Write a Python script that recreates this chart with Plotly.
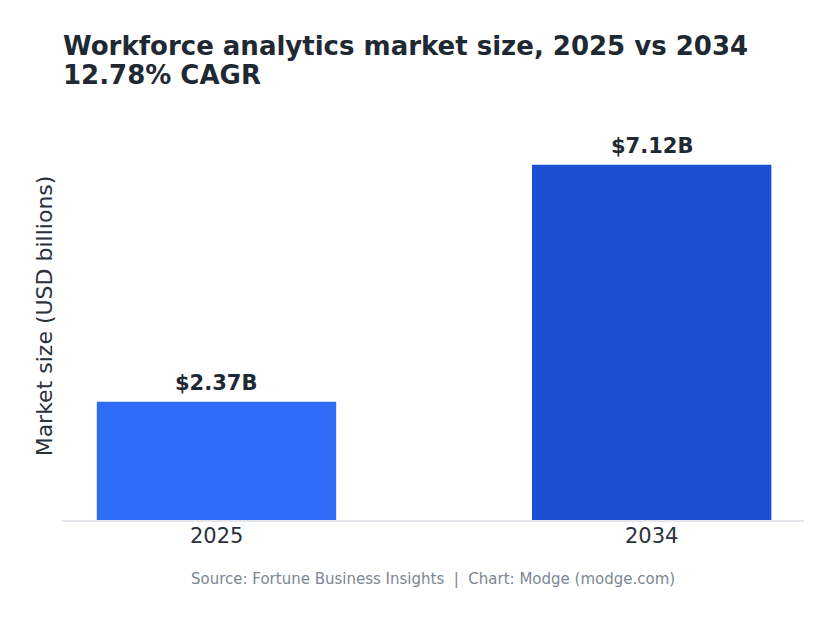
import plotly.graph_objects as go

years = ["2025", "2034"]
values = [2.37, 7.12]
labels = ["$2.37B", "$7.12B"]
colors = ["#2f6cf6", "#1b4fd1"]
title_lines = ["Workforce analytics market size, 2025 vs 2034", "12.78% CAGR"]
source = "Source: Fortune Business Insights  |  Chart: Modge (modge.com)"

FONT = "DejaVu Sans"

fig = go.Figure()
fig.add_trace(go.Bar(
    x=[0, 1], y=values,
    width=0.55,
    marker=dict(color=colors, line=dict(width=0)),
    hoverinfo="skip",
))

annotations = []
for line, shift in zip(title_lines, [66, 37]):
    annotations.append(dict(
        text=f"<b>{line}</b>", xref="paper", yref="paper", x=-0.001, y=1.0,
        yanchor="middle", xanchor="left", yshift=shift, align="left", showarrow=False,
        font=dict(family=FONT, size=26, color="#1f2933")))
annotations.append(dict(
    text=source, xref="paper", yref="paper", x=0.5, y=0, yanchor="top", xanchor="center",
    yshift=-48, showarrow=False,
    font=dict(family=FONT, size=15, color="#7b8794")))
for i, (v, lab) in enumerate(zip(values, labels)):
    annotations.append(dict(
        text=f"<b>{lab}</b>", x=i, y=v, xref="x", yref="y",
        yanchor="bottom", yshift=5, showarrow=False,
        font=dict(family=FONT, size=21, color="#1f2933")))
for i, yr in enumerate(years):
    annotations.append(dict(
        text=yr, x=i, y=0, xref="x", yref="paper",
        yanchor="top", yshift=-2, showarrow=False,
        font=dict(family=FONT, size=21, color="#2a313b")))

fig.update_layout(
    width=840, height=621,
    margin=dict(l=62, r=36, t=112, b=101),
    paper_bgcolor="white", plot_bgcolor="white",
    showlegend=False,
    font=dict(family=FONT),
    xaxis=dict(
        tickmode="array", tickvals=[0, 1], ticktext=years,
        showticklabels=False,
        range=[-0.355, 1.35],
        showgrid=False, zeroline=False,
        showline=True, linecolor="#e3e6ea", linewidth=1.5,
        ticks="",
    ),
    yaxis=dict(
        range=[0, 8.18],
        showgrid=False, zeroline=False, showline=False,
        showticklabels=False, ticks="",
        title=dict(text="Market size (USD billions)", standoff=2,
                   font=dict(family=FONT, size=22, color="#2a313b")),
    ),
    annotations=annotations,
)

fig.write_html("out.html")
